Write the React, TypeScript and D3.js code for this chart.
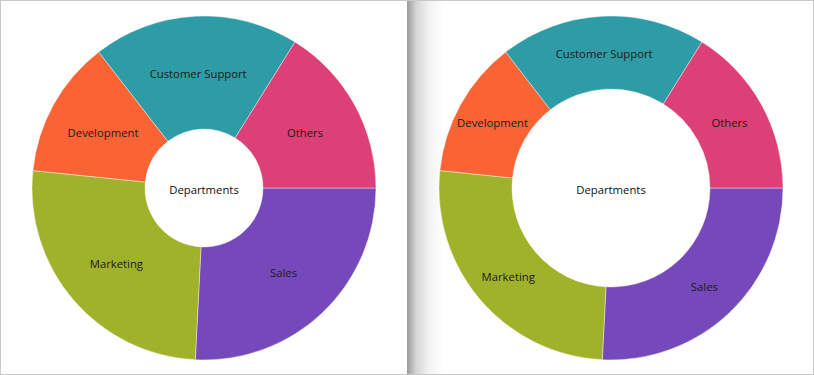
// react
import { useMemo } from "react";

// d3
import * as d3 from "d3";

const W = 814;
const H = 375;

// data
const departments = ["Sales", "Marketing", "Development", "Customer Support", "Others"];
const headcount = [16, 16, 8, 12, 10];
const sliceColors = ["#7649BA", "#A0B22A", "#FA6435", "#2E9CA6", "#DC4076"];
const centerTitle = "Departments";

type Row = { name: string; value: number; color: string };

function Donut({ cx, cy, outer, inner, rows }: { cx: number; cy: number; outer: number; inner: number; rows: Row[] }) {
  const arcs = useMemo(() => {
    const pie = d3
      .pie<Row>()
      .value((d) => d.value)
      .sort(null)
      .startAngle(Math.PI / 2)
      .endAngle(Math.PI / 2 + Math.PI * 2);
    return pie(rows);
  }, [rows]);

  const arc = d3.arc<d3.PieArcDatum<Row>>().innerRadius(inner).outerRadius(outer);

  return (
    <g transform={`translate(${cx},${cy})`}>
      {arcs.map((a) => (
        <path key={a.data.name} d={arc(a) ?? ""} fill={a.data.color} stroke="#ffffff" strokeWidth={0.4} />
      ))}
      {arcs.map((a) => {
        const [x, y] = arc.centroid(a);
        return (
          <text key={a.data.name + "-l"} x={x} y={y + 0.5} textAnchor="middle" dominantBaseline="central" fontSize={11.3} fill="#1a1a1a">
            {a.data.name}
          </text>
        );
      })}
      <text x={0} y={1} textAnchor="middle" dominantBaseline="central" fontSize={11.3} fill="#111111">
        {centerTitle}
      </text>
    </g>
  );
}

export default function App() {
  const rows: Row[] = departments.map((name, i) => ({ name, value: headcount[i], color: sliceColors[i] }));

  return (
    <svg
      width={W}
      height={H}
      style={{ position: "absolute", left: 0, top: 0, fontFamily: "'Open Sans', 'Noto Sans', sans-serif" }}
    >
      <defs>
        <linearGradient id="shadow" x1="0" x2="1" y1="0" y2="0">
          <stop offset="0%" stopColor="#9a9a9a" />
          <stop offset="25%" stopColor="#d4d4d4" />
          <stop offset="60%" stopColor="#f2f2f2" />
          <stop offset="100%" stopColor="#ffffff" />
        </linearGradient>
      </defs>
      <rect x={0} y={0} width={W} height={H} fill="#ffffff" />
      {/* right panel shadow */}
      <rect x={407} y={1} width={36} height={H - 2} fill="url(#shadow)" />
      {/* outer border */}
      <rect x={0.5} y={0.5} width={W - 1} height={H - 1} fill="none" stroke="#c8c8c8" />

      <Donut cx={204} cy={188} outer={172} inner={59} rows={rows} />
      <Donut cx={611} cy={188} outer={172} inner={99} rows={rows} />
    </svg>
  );
}
